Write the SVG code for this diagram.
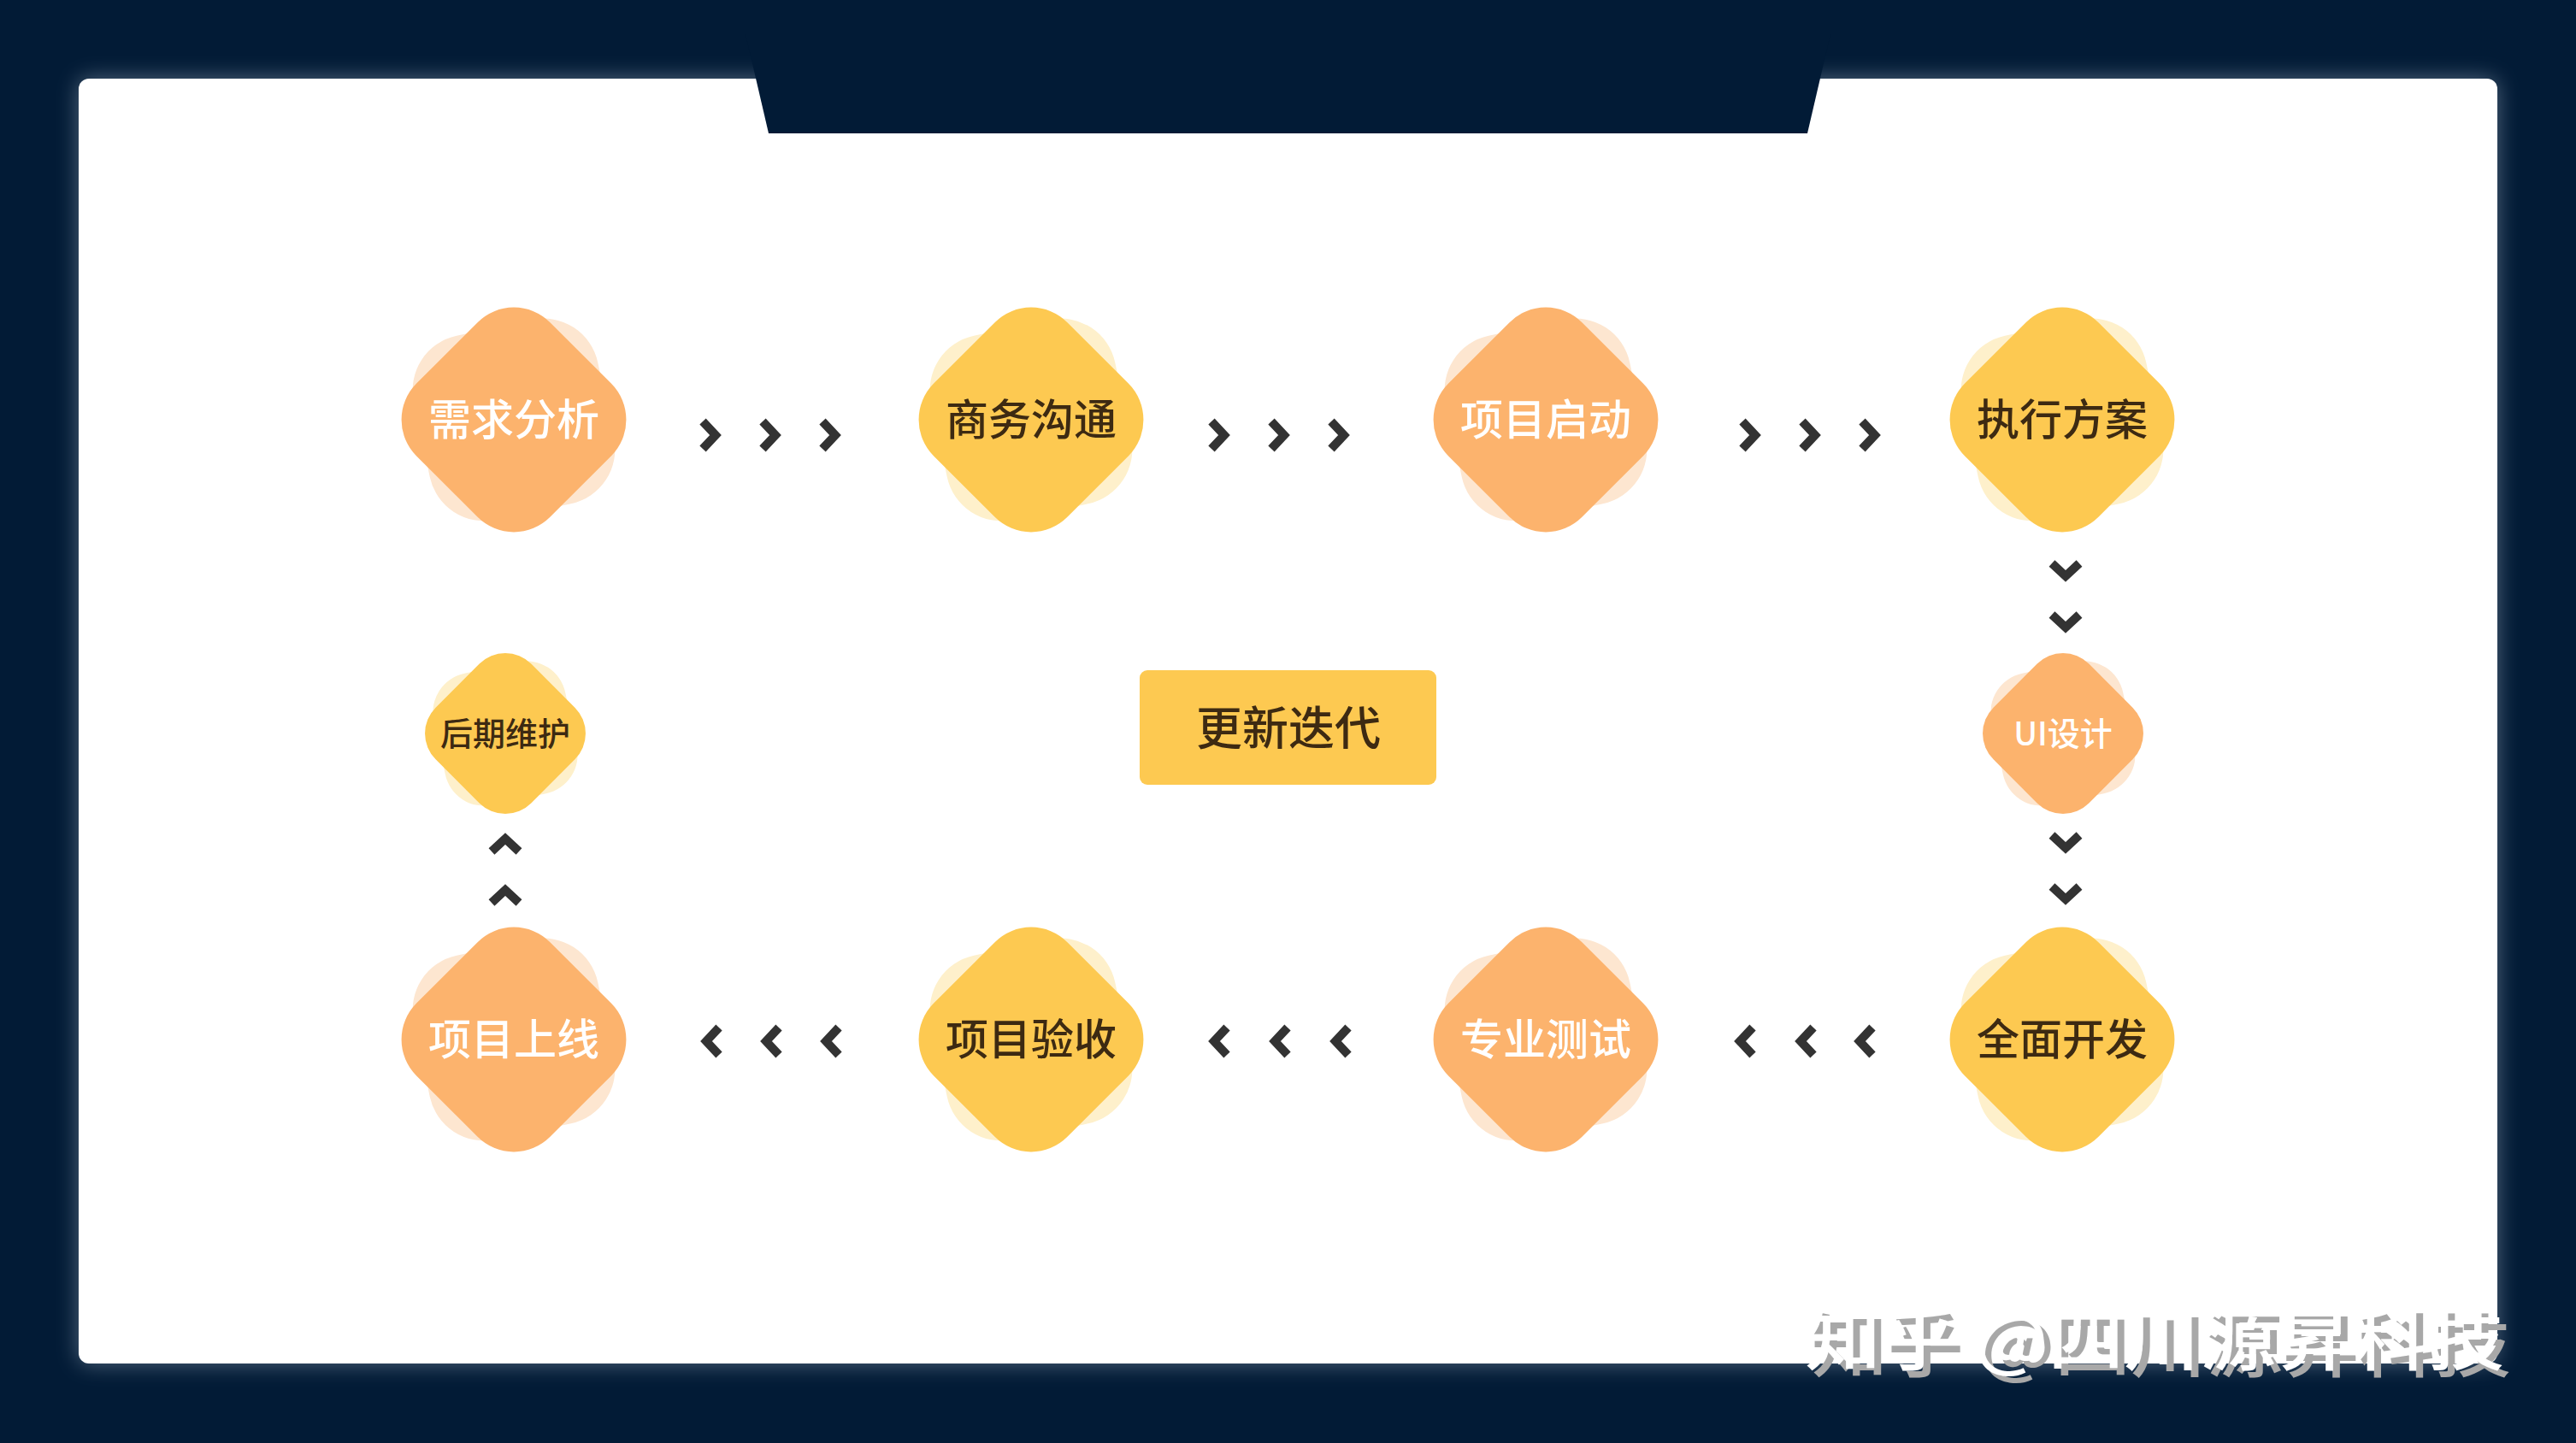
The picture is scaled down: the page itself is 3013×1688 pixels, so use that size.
<svg xmlns="http://www.w3.org/2000/svg" xmlns:xlink="http://www.w3.org/1999/xlink" width="3013" height="1688" viewBox="0 0 3013 1688">
<style>
.lo{fill:#FDE6D0}
.ly{fill:#FEF0CB}
.do{fill:#FCB36D}
.dy{fill:#FDC951}
.t{font-family:"Noto Sans CJK SC","Noto Sans",sans-serif;font-weight:500;text-anchor:middle}
.tw{fill:#FFFFFF}
.td{fill:#3D2A12}
.big{font-size:50px}
.small{font-size:38px}
.chev{fill:none;stroke:#333333;stroke-width:10;stroke-linejoin:miter;stroke-linecap:butt}
</style>
<defs>
<filter id="glow" x="-10%" y="-10%" width="120%" height="120%">
<feGaussianBlur stdDeviation="13"/>
</filter>
<filter id="wmshadow" x="-5%" y="-30%" width="110%" height="160%">
<feDropShadow dx="8" dy="8" stdDeviation="0" flood-color="#A8A8A8" flood-opacity="1"/>
</filter>
<rect id="light" x="-110" y="-110" width="220" height="220" rx="65" transform="rotate(-12)"/>
<rect id="dia" x="-110.5" y="-110.5" width="221" height="221" rx="60" transform="rotate(45)"/>
<path id="chev" class="chev" d="M-8,-16 L7,0 L-8,16"/>
</defs>
<rect x="0" y="0" width="3013" height="1688" fill="#021B36"/>
<g id="card">
<rect x="92" y="92" width="2829" height="1503" rx="12" fill="#B8C6D6" opacity="0.45" filter="url(#glow)"/>
<rect x="92" y="92" width="2829" height="1503" rx="12" fill="#FFFFFF"/>
<polygon points="872,40 2141,40 2114,156 899,156" fill="#021B36"/>
</g>

<g id="connectors">
<use xlink:href="#chev" transform="translate(830,509)"/>
<use xlink:href="#chev" transform="translate(900,509)"/>
<use xlink:href="#chev" transform="translate(970,509)"/>
<use xlink:href="#chev" transform="translate(1425,509)"/>
<use xlink:href="#chev" transform="translate(1495,509)"/>
<use xlink:href="#chev" transform="translate(1565,509)"/>
<use xlink:href="#chev" transform="translate(2046,509)"/>
<use xlink:href="#chev" transform="translate(2116,509)"/>
<use xlink:href="#chev" transform="translate(2186,509)"/>
<use xlink:href="#chev" transform="translate(2416,667) rotate(90)"/>
<use xlink:href="#chev" transform="translate(2416,727) rotate(90)"/>
<use xlink:href="#chev" transform="translate(2416,985) rotate(90)"/>
<use xlink:href="#chev" transform="translate(2416,1045) rotate(90)"/>
<use xlink:href="#chev" transform="translate(2182,1218) rotate(180)"/>
<use xlink:href="#chev" transform="translate(2113,1218) rotate(180)"/>
<use xlink:href="#chev" transform="translate(2042,1218) rotate(180)"/>
<use xlink:href="#chev" transform="translate(1569,1218) rotate(180)"/>
<use xlink:href="#chev" transform="translate(1498,1218) rotate(180)"/>
<use xlink:href="#chev" transform="translate(1427,1218) rotate(180)"/>
<use xlink:href="#chev" transform="translate(973,1218) rotate(180)"/>
<use xlink:href="#chev" transform="translate(903,1218) rotate(180)"/>
<use xlink:href="#chev" transform="translate(833,1218) rotate(180)"/>
<use xlink:href="#chev" transform="translate(591,1048) rotate(-90)"/>
<use xlink:href="#chev" transform="translate(591,988) rotate(-90)"/>
</g>

<g id="n1" transform="translate(601,491)">
<use xlink:href="#light" class="lo"/><use xlink:href="#dia" class="do"/>
<text class="t tw big" x="0" y="18">需求分析</text>
</g>
<g id="n2" transform="translate(1206,491)">
<use xlink:href="#light" class="ly"/><use xlink:href="#dia" class="dy"/>
<text class="t td big" x="0" y="18">商务沟通</text>
</g>
<g id="n3" transform="translate(1808,491)">
<use xlink:href="#light" class="lo"/><use xlink:href="#dia" class="do"/>
<text class="t tw big" x="0" y="18">项目启动</text>
</g>
<g id="n4" transform="translate(2412,491)">
<use xlink:href="#light" class="ly"/><use xlink:href="#dia" class="dy"/>
<text class="t td big" x="0" y="18">执行方案</text>
</g>
<g id="n5" transform="translate(2413,858)">
<g transform="scale(0.715)"><use xlink:href="#light" class="lo"/><use xlink:href="#dia" class="do"/></g>
<text class="t tw small" x="0" y="14">UI设计</text>
</g>
<g id="n6" transform="translate(2412,1216)">
<use xlink:href="#light" class="ly"/><use xlink:href="#dia" class="dy"/>
<text class="t td big" x="0" y="18">全面开发</text>
</g>
<g id="n7" transform="translate(1808,1216)">
<use xlink:href="#light" class="lo"/><use xlink:href="#dia" class="do"/>
<text class="t tw big" x="0" y="18">专业测试</text>
</g>
<g id="n8" transform="translate(1206,1216)">
<use xlink:href="#light" class="ly"/><use xlink:href="#dia" class="dy"/>
<text class="t td big" x="0" y="18">项目验收</text>
</g>
<g id="n9" transform="translate(601,1216)">
<use xlink:href="#light" class="lo"/><use xlink:href="#dia" class="do"/>
<text class="t tw big" x="0" y="18">项目上线</text>
</g>
<g id="n10" transform="translate(591,858)">
<g transform="scale(0.715)"><use xlink:href="#light" class="ly"/><use xlink:href="#dia" class="dy"/></g>
<text class="t td small" x="0" y="14">后期维护</text>
</g>
<g id="center">
<rect x="1333" y="784" width="347" height="134" rx="9" class="dy"/>
<text class="t td" style="font-size:54px" x="1507" y="872">更新迭代</text>
</g>

<g id="watermark">
<text x="2111" y="1596" fill="#FFFFFF" filter="url(#wmshadow)" textLength="818" lengthAdjust="spacingAndGlyphs" style="font-family:'Noto Sans CJK SC','Noto Sans',sans-serif;font-size:80px;font-weight:500">知乎 @四川源昇科技</text>
</g>
</svg>
